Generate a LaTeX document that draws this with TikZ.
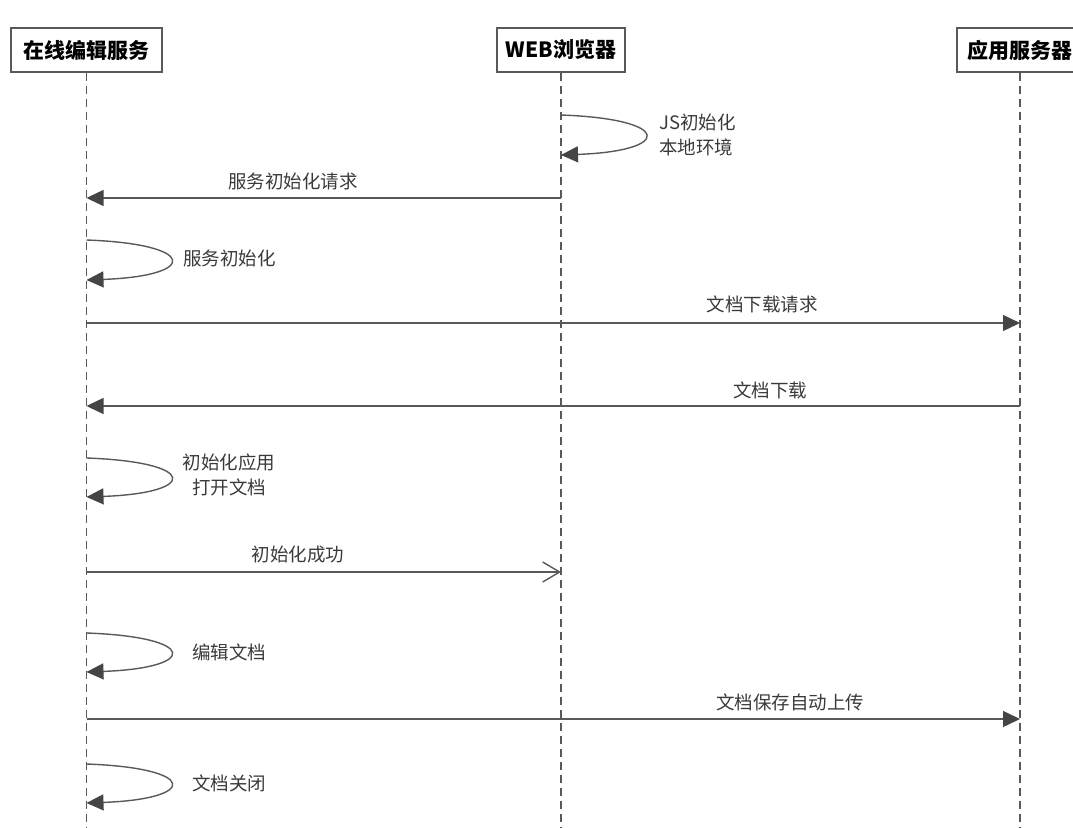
\documentclass[tikz,border=0pt]{standalone}
\usepackage{fontspec}
\setmainfont{Noto Sans CJK SC}
\usetikzlibrary{arrows.meta}
\definecolor{linegray}{HTML}{595959}
\definecolor{tipgray}{HTML}{454545}
\definecolor{textgray}{HTML}{3A3A3A}

\begin{document}
\begin{tikzpicture}[x=1pt,y=-1pt,
	head/.style={draw=linegray,line width=1.3pt,fill=white,minimum height=44pt,inner sep=0pt,
		font=\bfseries\fontsize{21}{23}\selectfont,text=black},
	life/.style={draw=linegray,line width=1.3pt,dash pattern=on 8pt off 5pt},
	msg/.style={draw=linegray,line width=1.4pt,-{Triangle[length=17pt,width=16pt,color=tipgray]}},
	reply/.style={draw=linegray,line width=1.4pt,-{Straight Barb[length=17pt,width=20pt]}},
	lbl/.style={font=\fontsize{18.5}{24.5}\selectfont,text=textgray,inner sep=0pt}]
	\useasboundingbox (0,0) rectangle (1073,827);
	\clip (0,0) rectangle (1073,827);
	\node[head,minimum width=151pt] (ed) at (86.5,50) {在线编辑服务};
	\node[head,minimum width=128pt] (web) at (561,50) {WEB浏览器};
	\node[head,minimum width=126pt] (app) at (1020,50) {应用服务器};
	\foreach \p in {ed,web,app}{
		\draw[life] (\p.south) -- (\p |- 0,827);
	}
	\foreach \n/\p/\ya/\yb in {1/web/115/155, 2/ed/240/280, 3/ed/458/497, 4/ed/633/672, 5/ed/764/803}{
		\coordinate (self\n a) at (\p |- 0,\ya);
		\coordinate (self\n b) at (\p |- 0,\yb);
		\draw[msg] (self\n a) .. controls +(112,4) and +(112,-4) .. (self\n b);
	}
	\draw[msg] (web |- 0,198) -- (ed |- 0,198);
	\draw[msg] (ed |- 0,323) -- (app |- 0,323);
	\draw[msg] (app |- 0,406) -- (ed |- 0,406);
	\draw[reply] (ed |- 0,572) -- (web |- 0,572);
	\draw[msg] (ed |- 0,719) -- (app |- 0,719);
	\node[lbl,anchor=west,align=left] (jsinit) at (659,135) {JS初始化\\本地环境};
	\node[lbl] (req) at (293,181) {服务初始化请求};
	\node[lbl,anchor=west] (svinit) at (183,258) {服务初始化};
	\node[lbl] (dlreq) at (762,304) {文档下载请求};
	\node[lbl] (dl) at (770,390) {文档下载};
	\node[lbl,align=center] (appinit) at (229,475) {初始化应用\\打开文档};
	\node[lbl] (ok) at (298,555) {初始化成功};
	\node[lbl] (edit) at (229,652) {编辑文档};
	\node[lbl] (save) at (790,702) {文档保存自动上传};
	\node[lbl] (close) at (229,783) {文档关闭};
\end{tikzpicture}
\end{document}
